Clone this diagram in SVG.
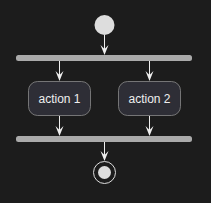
<svg xmlns="http://www.w3.org/2000/svg" width="211" height="203" viewBox="0 0 211 203">
<style>
.bar{fill:#aaaaaa}
.act{fill:#2e2e36;stroke:#8a8a8a;stroke-width:0.8}
.lbl{font-family:"Liberation Sans",Arial,sans-serif;font-size:12px;fill:#eeeeee;text-anchor:middle}
.ln{stroke:#eeeeee;stroke-width:1;fill:none}
.hd{fill:#eeeeee}
</style>
<rect width="211" height="203" fill="#1c1c1c"/>
<g id="start"><circle cx="104.5" cy="25" r="10" fill="#dddddd"/></g>
<g id="fork"><rect class="bar" x="16" y="55" width="176" height="6" rx="2.5"/></g>
<g id="action1"><rect class="act" x="28.5" y="81.5" width="62" height="34" rx="9"/><text class="lbl" x="59.5" y="103">action 1</text></g>
<g id="action2"><rect class="act" x="118.5" y="81.5" width="62" height="34" rx="9"/><text class="lbl" x="149.5" y="103">action 2</text></g>
<g id="join"><rect class="bar" x="16" y="136" width="176" height="6" rx="2.5"/></g>
<g id="end"><circle cx="104.5" cy="172.5" r="11" fill="none" stroke="#dddddd" stroke-width="1"/><circle cx="104.5" cy="172.5" r="6.5" fill="#dddddd"/></g>
<g id="connectors">
<path class="ln" d="M104.5 35V54"/><path class="hd" d="M100.5 45L104.5 55L108.5 45L104.5 49Z"/>
<path class="ln" d="M59.5 61V80"/><path class="hd" d="M55.5 71L59.5 81L63.5 71L59.5 75Z"/>
<path class="ln" d="M149.5 61V80"/><path class="hd" d="M145.5 71L149.5 81L153.5 71L149.5 75Z"/>
<path class="ln" d="M59.5 116V135"/><path class="hd" d="M55.5 126L59.5 136L63.5 126L59.5 130Z"/>
<path class="ln" d="M149.5 116V135"/><path class="hd" d="M145.5 126L149.5 136L153.5 126L149.5 130Z"/>
<path class="ln" d="M104.5 142V160"/><path class="hd" d="M100.5 151L104.5 161L108.5 151L104.5 155Z"/>
</g>
</svg>
